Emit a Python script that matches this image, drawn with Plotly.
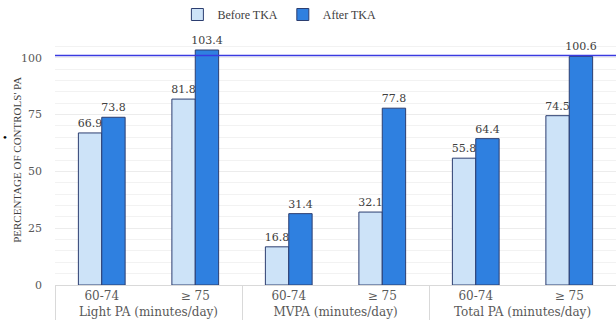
import plotly.graph_objects as go

groups = ["Light PA (minutes/day)", "MVPA (minutes/day)", "Total PA (minutes/day)"]
subcats = ["60-74", "≥ 75"]
before_tka = [66.9, 81.8, 16.8, 32.1, 55.8, 74.5]
after_tka = [73.8, 103.4, 31.4, 77.8, 64.4, 100.6]
reference_level = 101
y_ticks = [0, 25, 50, 75, 100]

outer = [g for g in groups for _ in subcats]
inner = [s for _ in groups for s in subcats]
x = [outer, inner]

font_family = "DejaVu Serif, Liberation Serif, serif"

fig = go.Figure()
fig.add_trace(go.Bar(
    name="Before TKA", x=x, y=before_tka,
    marker=dict(color="#cde3f8", line=dict(color="#2c3e70", width=1)),
    text=[f"{v:.1f}" for v in before_tka], textposition="outside",
    textfont=dict(size=11, color="#404040", family=font_family),
    cliponaxis=False, constraintext="none",
))
fig.add_trace(go.Bar(
    name="After TKA", x=x, y=after_tka,
    marker=dict(color="#2f80e0", line=dict(color="#2c3e70", width=1)),
    text=[f"{v:.1f}" for v in after_tka], textposition="outside",
    textfont=dict(size=11, color="#404040", family=font_family),
    cliponaxis=False, constraintext="none",
))

fig.add_shape(type="line", xref="paper", x0=0, x1=1, yref="y",
              y0=reference_level, y1=reference_level,
              line=dict(color="#3a3ae0", width=1.5))

fig.add_annotation(text="•", xref="paper", yref="paper", x=-0.089, y=0.592,
                   xanchor="center", yanchor="middle",
                   showarrow=False, font=dict(size=10, color="black"))
fig.add_annotation(text="PERCENTAGE OF CONTROLS' PA", xref="paper", yref="paper",
                   x=-0.068, y=0.5, xanchor="center", yanchor="middle",
                   textangle=-90, showarrow=False,
                   font=dict(size=11, color="#404040", family="Liberation Serif, serif"))

fig.update_layout(
    width=616, height=326,
    margin=dict(l=55, r=0, t=35, b=41),
    paper_bgcolor="white", plot_bgcolor="white",
    barmode="group", bargap=0.5, bargroupgap=0,
    font=dict(family=font_family, color="#595959", size=11),
    legend=dict(orientation="h", x=0.40, xanchor="center", y=1.0, yanchor="top",
                yref="container", font=dict(size=12, color="#404040", family="Liberation Serif, serif"),
                itemwidth=30, traceorder="normal"),
    showlegend=True,
)
fig.update_xaxes(
    tickfont=dict(size=12, color="#595959"),
    showdividers=True, dividercolor="#d9d9d9", dividerwidth=1,
    showline=True, linecolor="#d9d9d9", linewidth=1,
    ticks="",
)
fig.update_yaxes(
    range=[0, 110], tickvals=y_ticks,
    showgrid=True, gridcolor="#ececec", gridwidth=1,
    minor=dict(dtick=5, showgrid=True, gridcolor="#f2f2f2", gridwidth=1),
    zeroline=False, showline=False,
    tickfont=dict(size=11, color="#595959"),
    ticklabelstandoff=12,
)

fig.write_html("out.html")
